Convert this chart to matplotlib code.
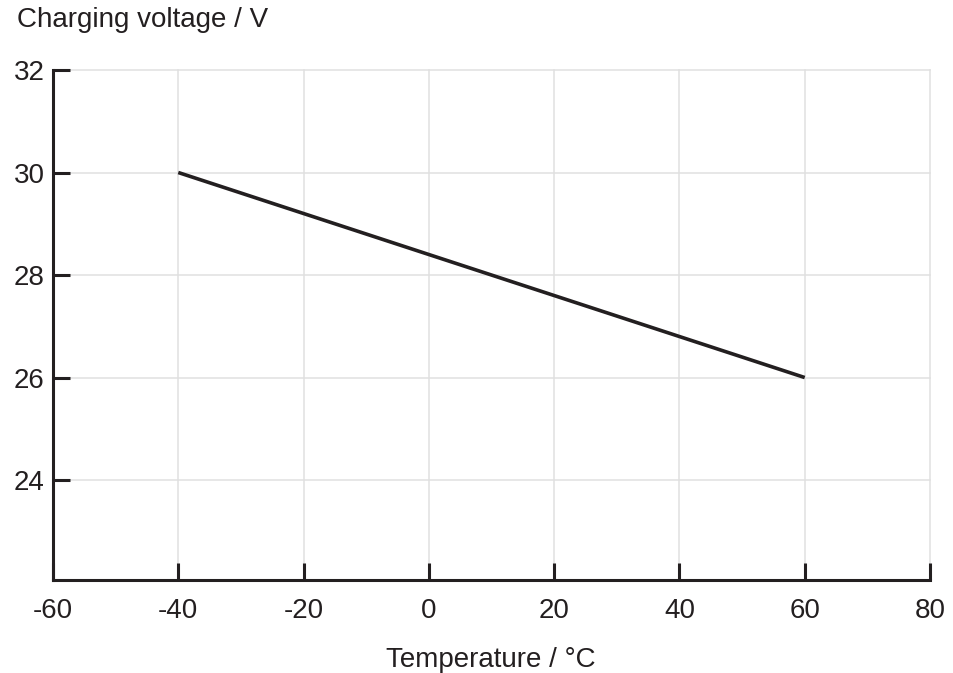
import matplotlib.pyplot as plt

# data
temperature = [-40, 60]
voltage = [30, 26]
x_ticks = [-60, -40, -20, 0, 20, 40, 60, 80]
y_ticks = [24, 26, 28, 30, 32]

plt.rcParams['font.family'] = ['Liberation Sans', 'DejaVu Sans']
plt.rcParams['axes.unicode_minus'] = False

fig = plt.figure(figsize=(9.54, 6.73), dpi=100)
ax = fig.add_axes([53 / 954, 93 / 673, 877 / 954, 510 / 673])

ax.plot(temperature, voltage, color='#231f20', linewidth=2.6, solid_capstyle='butt')

ax.set_xlim(-60, 80)
ax.set_ylim(22.05, 32)
ax.set_xticks(x_ticks)
ax.set_yticks(y_ticks)
ax.grid(True, color='#e0e0e0', linewidth=1.1)
ax.set_axisbelow(True)
for gl in ax.get_xgridlines() + ax.get_ygridlines():
    gl.set_clip_on(False)

for side in ['top', 'right']:
    ax.spines[side].set_visible(False)
for side in ['left', 'bottom']:
    ax.spines[side].set_linewidth(2.2)
    ax.spines[side].set_color('#231f20')

ax.tick_params(direction='in', length=12, width=2.2, color='#231f20',
               labelsize=20, labelcolor='#231f20')
ax.tick_params(axis='y', pad=6)
ax.tick_params(axis='x', pad=13)

fig.text(17 / 954, 1 - 20 / 673, 'Charging voltage / V', fontsize=20,
         color='#231f20', va='center', ha='left')
fig.text(491 / 954, 1 - 660 / 673, 'Temperature / °C', fontsize=20,
         color='#231f20', va='center', ha='center')

fig.savefig('out.png', dpi=100)
